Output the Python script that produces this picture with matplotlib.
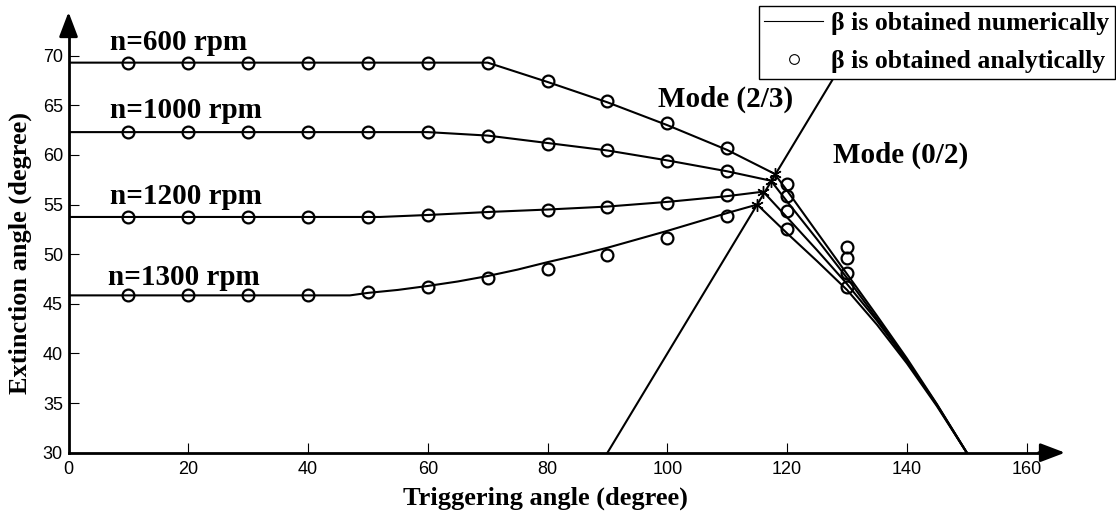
'''
Extinction angle against triggering angle for four motor speeds
Solid lines are the numerical solution, circles the analytical one
The straight line marks the border between mode (2/3) and mode (0/2)
'''

import matplotlib.pyplot as plt
from matplotlib.lines import Line2D

SERIF = "Liberation Serif"
SANS = "Liberation Sans"

# analytical points, triggering angle 10..130 degree
analyticX = [10, 20, 30, 40, 50, 60, 70, 80, 90, 100, 110, 120, 130]
analytic600 = [69.3, 69.3, 69.3, 69.3, 69.3, 69.3, 69.3, 67.4, 65.45, 63.2, 60.65, 57.1, 50.75]
analytic1000 = [62.3, 62.3, 62.3, 62.3, 62.3, 62.3, 61.9, 61.15, 60.45, 59.35, 58.37, 55.85, 49.6]
analytic1200 = [53.75, 53.75, 53.75, 53.75, 53.75, 53.9, 54.27, 54.5, 54.8, 55.2, 55.95, 54.35, 48.1]
analytic1300 = [45.85, 45.85, 45.85, 45.85, 46.15, 46.7, 47.56, 48.5, 49.9, 51.6, 53.8, 52.5, 46.7]

# numerical curves
numX600 = [0, 70, 80, 90, 100, 110, 117.9, 120, 125, 130, 135, 140, 145, 150]
numY600 = [69.3, 69.3, 67.35, 65.3, 63.0, 60.5, 58.1, 56.4, 52.2, 48.0, 43.8, 39.5, 34.9, 30]
numX1000 = [0, 60, 70, 80, 90, 100, 110, 117.3, 120, 125, 130, 135, 140, 145, 150]
numY1000 = [62.3, 62.3, 61.95, 61.2, 60.45, 59.45, 58.35, 57.4, 55.3, 51.5, 47.6, 43.5, 39.3, 34.85, 30]
numX1200 = [0, 52, 60, 70, 80, 90, 100, 110, 116, 120, 125, 130, 135, 140, 145, 150]
numY1200 = [53.75, 53.75, 53.95, 54.25, 54.5, 54.8, 55.27, 55.85, 56.3, 53.7, 50.4, 47.0, 43.3, 39.2, 34.8, 30]
numX1300 = [0, 47, 50, 55, 60, 65, 70, 75, 80, 85, 90, 95, 100, 105, 110, 115,
            120, 125, 130, 135, 140, 145, 150]
numY1300 = [45.85, 45.85, 46.1, 46.4, 46.8, 47.25, 47.8, 48.45, 49.2, 49.9, 50.65, 51.5, 52.35,
            53.25, 54.15, 55.0, 52.1, 49.3, 46.4, 42.9, 39.0, 34.7, 30]

# points where the curves cross the mode border
crossX = [117.9, 117.3, 116.0, 115.0]
crossY = [58.1, 57.4, 56.3, 55.0]

# mode border line
borderX = [90, 134.4]
borderY = [30, 74.4]

speedLabels = ["n=600 rpm", "n=1000 rpm", "n=1200 rpm", "n=1300 rpm"]
labelX = [6.9, 6.9, 6.9, 6.6]
labelY = [70.55, 63.7, 55.1, 46.9]


def draw_arrow(ax, start, end):
    '''
    Draws a filled arrow head at the end of an axis line
    '''
    ax.annotate("", xy=end, xytext=start, xycoords="data", textcoords="data",
                annotation_clip=False,
                arrowprops=dict(arrowstyle="-|>,head_length=1.0,head_width=0.38",
                                color="k", lw=2, mutation_scale=15,
                                shrinkA=0, shrinkB=0))


def main():
    fig = plt.figure(figsize=(11.16, 5.16), dpi=100)
    ax = fig.add_axes([0.0614, 0.1227, 0.8929, 0.854])

    numeric = [(numX600, numY600), (numX1000, numY1000),
               (numX1200, numY1200), (numX1300, numY1300)]
    analytic = [analytic600, analytic1000, analytic1200, analytic1300]

    for (xs, ys), circles in zip(numeric, analytic):
        ax.plot(xs, ys, color="k", lw=1.5, zorder=3)
        ax.plot(analyticX, circles, ls="none", marker="o", ms=8.5, mfc="none",
                mec="k", mew=1.6, zorder=4)

    ax.plot(borderX, borderY, color="k", lw=1.5, zorder=3)
    ax.plot(crossX, crossY, ls="none", marker=(6, 2, 0), ms=9, mec="k", mew=1, zorder=5)

    for text, x, y in zip(speedLabels, labelX, labelY):
        ax.text(x, y, text, family=SERIF, weight="bold", fontsize=21, va="baseline")

    ax.text(98.4, 64.85, "Mode (2/3)", family=SERIF, weight="bold", fontsize=21, va="baseline")
    ax.text(127.6, 59.2, "Mode (0/2)", family=SERIF, weight="bold", fontsize=21, va="baseline")

    ax.set_xlim(0, 166.4)
    ax.set_ylim(30, 74.4)
    ax.set_xticks(range(0, 161, 20))
    ax.set_yticks(range(30, 71, 5))
    ax.tick_params(direction="in", length=7, width=0.8, labelsize=13)
    ax.tick_params(axis="x", pad=6)
    ax.tick_params(axis="y", pad=4)
    for label in ax.get_xticklabels() + ax.get_yticklabels():
        label.set_family(SANS)

    ax.spines["top"].set_visible(False)
    ax.spines["right"].set_visible(False)
    ax.spines["left"].set_linewidth(2)
    ax.spines["bottom"].set_linewidth(2)
    ax.spines["bottom"].set_bounds(0, 163)
    ax.spines["left"].set_bounds(30, 72.5)
    draw_arrow(ax, (162, 30), (166.4, 30))
    draw_arrow(ax, (0, 72), (0, 74.4))

    fig.text(545 / 1116, 11 / 516, "Triggering angle (degree)", family=SERIF,
             weight="bold", fontsize=19, ha="center", va="baseline")
    fig.text(20 / 1116, 1 - 253 / 516, "Extinction angle (degree)", family=SERIF,
             weight="bold", fontsize=19, ha="center", va="center", rotation=90)

    handles = [Line2D([], [], color="k", lw=0.8),
               Line2D([], [], ls="none", marker="o", ms=7, mfc="none", mec="k", mew=0.8)]
    names = ["β is obtained numerically", "β is obtained analytically"]
    leg = fig.legend(handles, names, loc="upper right", bbox_to_anchor=(0.999, 0.988),
                     bbox_transform=fig.transFigure, fancybox=False, framealpha=1,
                     edgecolor="k", borderpad=0.22, labelspacing=0.6, handlelength=2.3,
                     handletextpad=0.3, borderaxespad=0,
                     prop={"family": SERIF, "weight": "bold", "size": 18.5})
    leg.get_frame().set_linewidth(1)

    fig.savefig("out.png", dpi=100)


main()
